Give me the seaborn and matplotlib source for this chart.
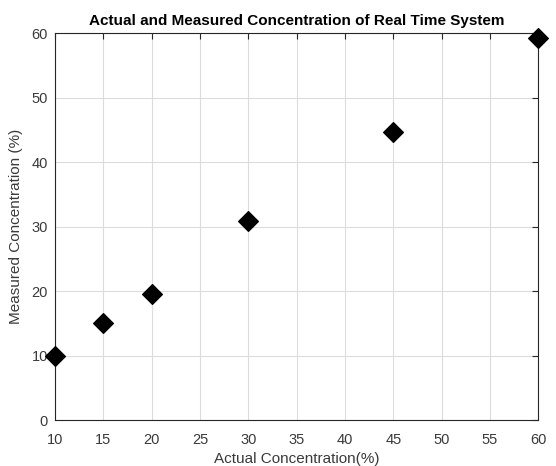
import matplotlib
matplotlib.use("Agg")
import matplotlib.pyplot as plt
import seaborn as sns
import pandas as pd

actual = [10, 15, 20, 30, 45, 60]
measured = [10.0, 15.1, 19.5, 30.9, 44.6, 59.3]
x_ticks = [10, 15, 20, 25, 30, 35, 40, 45, 50, 55, 60]
y_ticks = [0, 10, 20, 30, 40, 50, 60]

sns.set_theme(style="white")
plt.rcParams['font.family'] = ['Liberation Sans', 'DejaVu Sans']

df = pd.DataFrame({"actual": actual, "measured": measured})

fig = plt.figure(figsize=(5.56, 4.66), dpi=100)
ax = fig.add_axes([0.099, 0.0987, 0.869, 0.830])
ax.set_axisbelow(True)
sns.scatterplot(data=df, x="actual", y="measured", marker="D", s=100,
                color="black", edgecolor="black", linewidth=1, ax=ax, zorder=5,
                clip_on=False)

ax.set_xlim(10, 60)
ax.set_ylim(0, 60)
ax.set_xticks(x_ticks)
ax.set_yticks(y_ticks)
ax.grid(True, color="#dcdcdc", linewidth=0.8)
for sp in ax.spines.values():
    sp.set_color("#262626")
    sp.set_linewidth(0.8)
ax.tick_params(direction="in", top=True, right=True, length=4, width=0.8,
               colors="#262626", labelsize=10.5, labelcolor="#3a3a3a")
ax.tick_params(axis="x", pad=9)
ax.tick_params(axis="y", pad=5)
ax.set_xlabel("Actual Concentration(%)", fontsize=11, color="#3a3a3a", labelpad=4)
ax.set_ylabel("Measured Concentration (%)", fontsize=11, color="#3a3a3a", labelpad=6)
ax.set_title("Actual and Measured Concentration of Real Time System",
             fontsize=11, fontweight="bold", color="black", pad=6)

fig.savefig("out.png", dpi=100)
